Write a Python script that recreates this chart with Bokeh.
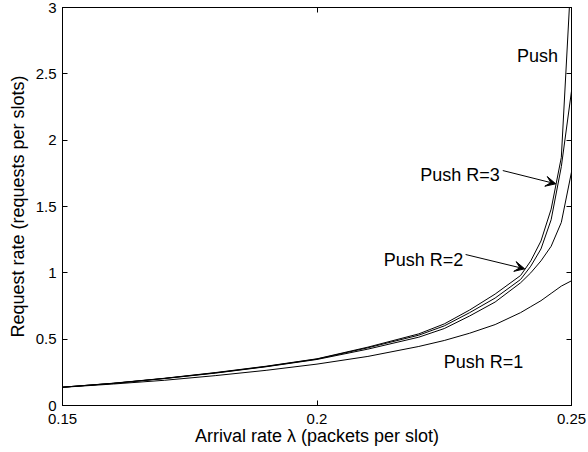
from bokeh.plotting import figure
from bokeh.models import (Range1d, LinearAxis, FixedTicker, Label, Arrow, VeeHead,
                          NumeralTickFormatter, CustomLabelingPolicy)
from bokeh.embed import file_html
from bokeh.resources import INLINE

# Arrival rate lambda (packets per slot)
lam = [0.15, 0.16, 0.17, 0.18, 0.19, 0.20, 0.21, 0.22, 0.225, 0.23, 0.235,
       0.24, 0.242, 0.244, 0.246, 0.248, 0.25]

# Request rate (requests per slot) for each scheme
push = [0.138, 0.168, 0.205, 0.248, 0.296, 0.352, 0.44, 0.54, 0.615, 0.72, 0.84,
        0.98, 1.09, 1.24, 1.48, 1.87, 3.3]
push_r3 = [0.138, 0.167, 0.204, 0.246, 0.294, 0.350, 0.435, 0.53, 0.60, 0.70, 0.81,
           0.95, 1.05, 1.18, 1.40, 1.80, 2.37]
push_r2 = [0.138, 0.167, 0.203, 0.244, 0.292, 0.347, 0.425, 0.515, 0.58, 0.675, 0.78,
           0.925, 1.00, 1.09, 1.20, 1.38, 1.76]
push_r1 = [0.137, 0.162, 0.190, 0.225, 0.265, 0.312, 0.37, 0.445, 0.49, 0.545, 0.61,
           0.70, 0.745, 0.79, 0.845, 0.90, 0.94]

x_ticks = [0.15, 0.2, 0.25]
x_tick_labels = ["0.15", "0.2", "0.25"]
y_ticks = [0, 0.5, 1, 1.5, 2, 2.5, 3]
y_tick_labels = ["0", "0.5", "1", "1.5", "2", "2.5", "3"]

FONT = "Liberation Sans"

p = figure(width=588, height=452, output_backend="svg", toolbar_location=None,
           title=None, x_range=Range1d(0.15, 0.25), y_range=Range1d(0, 3),
           min_border_left=62, min_border_right=17, min_border_top=7,
           min_border_bottom=47, background_fill_color="white",
           border_fill_color="white")
p.grid.visible = False
p.outline_line_color = "black"
p.outline_line_width = 1

bottom_axis = p.below[0]
left_axis = p.left[0]

for xs_, ys_ in [(lam, push), (lam, push_r3), (lam, push_r2), (lam, push_r1)]:
    p.line(xs_, ys_, line_color="black", line_width=1)

# box axes on the top and right carry inward ticks only
top_axis = LinearAxis()
right_axis = LinearAxis()
p.add_layout(top_axis, "above")
p.add_layout(right_axis, "right")


def style_axis(ax, ticks, labels, fmt, show_labels):
    ax.ticker = FixedTicker(ticks=ticks)
    ax.formatter = NumeralTickFormatter(format=fmt)
    ax.major_label_overrides = {t: s for t, s in zip(ticks, labels)}
    ax.minor_tick_line_color = None
    ax.major_tick_in = 5
    ax.major_tick_out = 0
    ax.axis_line_color = "black"
    ax.major_tick_line_color = "black"
    ax.axis_line_width = 1
    ax.major_label_text_font = FONT
    ax.major_label_text_color = "black"
    ax.axis_label_text_font = FONT
    ax.axis_label_text_font_style = "normal"
    ax.axis_label_text_color = "black"
    if show_labels:
        ax.major_label_text_font_size = "15px"
        ax.axis_label_text_font_size = "18px"
    else:
        ax.major_label_text_font_size = "1px"
        ax.major_label_standoff = 0
        ax.major_label_policy = CustomLabelingPolicy(code="return []")


style_axis(bottom_axis, x_ticks, x_tick_labels, "0.[00]", True)
style_axis(left_axis, y_ticks, y_tick_labels, "0.[0]", True)
style_axis(top_axis, x_ticks, x_tick_labels, "0.[00]", False)
style_axis(right_axis, y_ticks, y_tick_labels, "0.[0]", False)

bottom_axis.axis_label = "Arrival rate \u03bb (packets per slot)"
bottom_axis.major_label_standoff = 8
bottom_axis.axis_label_standoff = -1
left_axis.axis_label = "Request rate (requests per slots)"
left_axis.major_label_standoff = 6
left_axis.axis_label_standoff = 5

# Curve annotations
labels = [
    ("Push", 0.2393, 2.638),
    ("Push R=3", 0.2203, 1.734),
    ("Push R=2", 0.2131, 1.098),
    ("Push R=1", 0.2249, 0.326),
]
for txt, lx, ly in labels:
    p.add_layout(Label(x=lx, y=ly, text=txt, text_font=FONT, text_font_size="18px",
                       text_color="black", text_baseline="alphabetic",
                       text_align="left"))

arrows = [
    (0.2365, 1.771, 0.2469, 1.671),
    (0.2292, 1.138, 0.2408, 1.030),
]
for x0, y0, x1, y1 in arrows:
    p.add_layout(Arrow(end=VeeHead(size=10, fill_color="black", line_color="black",
                                   line_width=1),
                       x_start=x0, y_start=y0, x_end=x1, y_end=y1,
                       line_color="black", line_width=1))

open("out.html", "w").write(file_html(p, INLINE))
